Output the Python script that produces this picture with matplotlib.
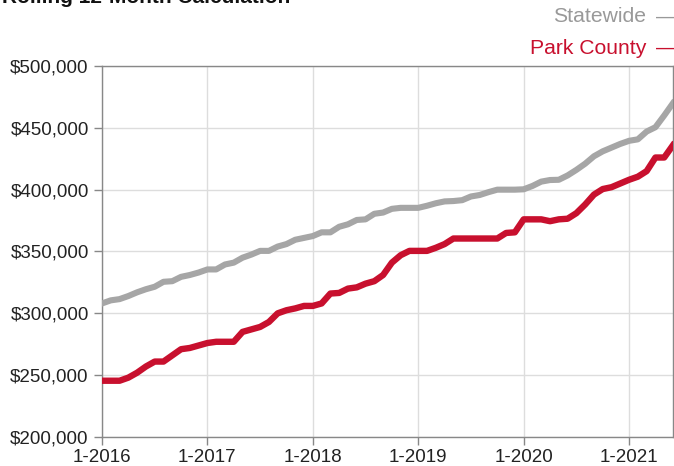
import matplotlib.pyplot as plt
from matplotlib.ticker import FuncFormatter

plt.rcParams['font.family'] = ['Liberation Sans', 'DejaVu Sans']

# monthly values, 1-2016 .. 6-2021 (thousands of dollars)
statewide = [308, 310.5, 311.5, 314, 317, 319.5, 321.5, 325.5, 326, 329.5, 331, 333,
             335.5, 335.5, 339.5, 341, 345, 347.5, 350.5, 350.5, 354, 356, 359.5, 361,
             362.5, 365.5, 365.5, 370, 372, 375.5, 376, 380.5, 381.5, 384.5, 385.3, 385.3,
             385.3, 387, 389, 390.5, 390.8, 391.5, 394.5, 395.7, 398, 400, 400, 400,
             400.3, 403, 406.5, 407.8, 408, 411.5, 416, 421, 427, 431, 434, 437,
             439.5, 440.7, 447, 450.5, 460, 470]
park_county = [245.5, 245.5, 245.5, 248, 252, 257, 261, 261, 266, 271, 272, 274,
               276, 277, 277, 277, 285, 287, 289, 293, 300, 302.5, 304, 306,
               306, 308, 316, 316.5, 320, 321, 324, 326, 331, 341, 347, 350.5,
               350.5, 350.5, 353, 356, 360.5, 360.5, 360.5, 360.5, 360.5, 360.5, 365, 365.5,
               376, 376, 376, 374.5, 376, 376.5, 381, 388, 396, 400.5, 402, 405,
               408, 410.5, 415, 426, 426, 436]
tick_labels = ["1-2016", "1-2017", "1-2018", "1-2019", "1-2020", "1-2021"]

months = list(range(len(statewide)))
gray = "#a6a6a6"
red = "#c8102e"

fig = plt.figure(figsize=(6.74, 4.66), dpi=100)
ax = fig.add_axes([102 / 674, 1 - 437 / 466, 571 / 674, 371 / 466])

ax.plot(months, [v * 1000 for v in statewide], color=gray, lw=4.4, solid_joinstyle='round', zorder=3)
ax.plot(months, [v * 1000 for v in park_county], color=red, lw=4.6, solid_joinstyle='round', zorder=4)

ax.set_xlim(0, 65)
ax.set_ylim(200000, 500000)
ax.set_xticks(range(0, 61, 12))
ax.set_xticklabels(tick_labels)
ax.set_yticks(range(200000, 500001, 50000))
ax.yaxis.set_major_formatter(FuncFormatter(lambda v, p: "${:,.0f}".format(v)))
ax.tick_params(labelsize=13.5, colors="#888888", labelcolor="#222222", length=6, width=1)
ax.tick_params(axis='x', pad=3)
ax.grid(True, color="#dddddd", lw=1, zorder=0)
for s in ax.spines.values():
    s.set_color("#888888")
    s.set_linewidth(1)

# title, cut off at the top
fig.text(2 / 674, 1 + 2 / 466, "Rolling 12-Month Calculation", fontsize=15, fontweight='bold',
         color="#111111", ha='left', va='center')

# legend as text
fig.text(646 / 674, 1 - 17 / 466, "Statewide", fontsize=15.2, color="#999999", ha='right', va='center')
fig.text(656 / 674, 1 - 17 / 466, "\u2014", fontsize=15, color="#999999", ha='left', va='center')
fig.text(646 / 674, 1 - 48 / 466, "Park County", fontsize=15.2, color=red, ha='right', va='center')
fig.text(656 / 674, 1 - 48 / 466, "\u2014", fontsize=15, color=red, ha='left', va='center')

fig.savefig("out.png", dpi=100)
